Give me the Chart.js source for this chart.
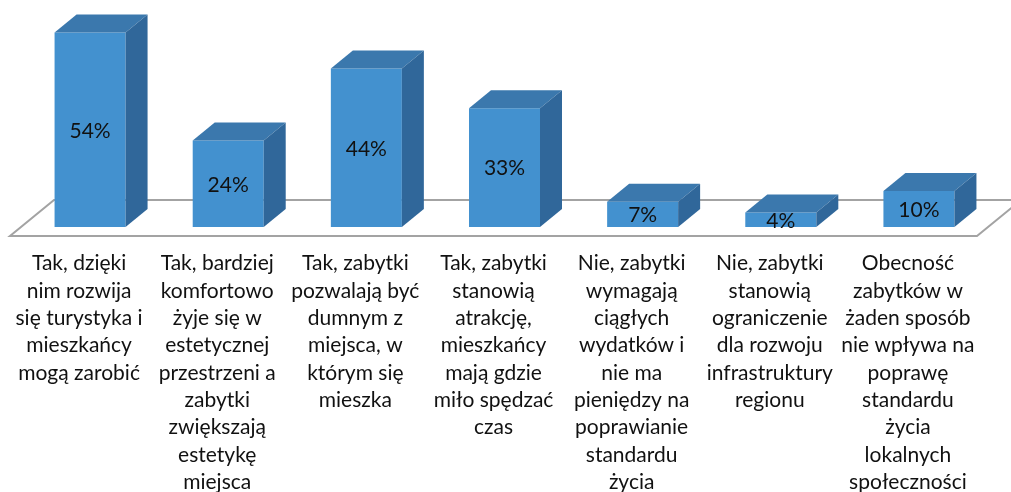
<!DOCTYPE html>
<html><head><meta charset="utf-8">
<script src="https://cdn.jsdelivr.net/npm/chart.js@4"></script>
<style>html,body{margin:0;padding:0;background:#fff;overflow:hidden}</style>
</head><body>
<canvas id="c" width="1011" height="492"></canvas>
<script>
const categories = [
  ["Tak, dzięki","nim rozwija","się turystyka i","mieszkańcy","mogą zarobić"],
  ["Tak, bardziej","komfortowo","żyje się w","estetycznej","przestrzeni a","zabytki","zwiększają","estetykę","miejsca"],
  ["Tak, zabytki","pozwalają być","dumnym z","miejsca, w","którym się","mieszka"],
  ["Tak, zabytki","stanowią","atrakcję,","mieszkańcy","mają gdzie","miło spędzać","czas"],
  ["Nie, zabytki","wymagają","ciągłych","wydatków i","nie ma","pieniędzy na","poprawianie","standardu","życia"],
  ["Nie, zabytki","stanowią","ograniczenie","dla rozwoju","infrastruktury","regionu"],
  ["Obecność","zabytków w","żaden sposób","nie wpływa na","poprawę","standardu","życia","lokalnych","społeczności"]
];
const values = [54, 24, 44, 33, 7, 4, 10];
const valueLabels = ["54%", "24%", "44%", "33%", "7%", "4%", "10%"];

const DX = 22, DY = -18;
const FRONT = '#4391cf', TOP = '#3b78ad', SIDE = '#30679a';
const FONT = '"Lato", "Open Sans", sans-serif';

const box3d = {
  id: 'box3d',
  beforeDatasetsDraw(chart) {
    const ctx = chart.ctx, a = chart.chartArea;
    const y0 = chart.scales.y.getPixelForValue(0);
    const fx0 = a.left - DX / 2, fx1 = a.right - DX / 2, fy = y0 - DY / 2;
    const bx0 = fx0 + 2 * DX, bx1 = fx1 + 2 * DX, by = fy + 2 * DY;
    ctx.save();
    ctx.strokeStyle = '#a3a3a3';
    ctx.lineWidth = 2;
    ctx.beginPath();
    ctx.moveTo(fx0, fy); ctx.lineTo(fx1, fy); ctx.lineTo(bx1, by); ctx.lineTo(bx0, by); ctx.closePath();
    ctx.stroke();
    ctx.restore();
  },
  afterDatasetsDraw(chart) {
    const ctx = chart.ctx;
    const meta = chart.getDatasetMeta(0);
    ctx.save();
    meta.data.forEach((bar, i) => {
      const p = bar.getProps(['x', 'y', 'base', 'width'], true);
      const l = p.x - p.width / 2, r = p.x + p.width / 2, t = p.y, b = p.base;
      ctx.fillStyle = TOP;
      ctx.beginPath();
      ctx.moveTo(l, t); ctx.lineTo(l + DX, t + DY); ctx.lineTo(r + DX, t + DY); ctx.lineTo(r, t); ctx.closePath();
      ctx.fill();
      ctx.fillStyle = SIDE;
      ctx.beginPath();
      ctx.moveTo(r, t); ctx.lineTo(r + DX, t + DY); ctx.lineTo(r + DX, b + DY); ctx.lineTo(r, b); ctx.closePath();
      ctx.fill();
      ctx.fillStyle = '#111';
      ctx.font = '21px ' + FONT;
      ctx.textAlign = 'center';
      ctx.textBaseline = 'middle';
      ctx.fillText(valueLabels[i], p.x, (t + b) / 2 + 1);
    });
    ctx.restore();
  }
};

new Chart(document.getElementById('c'), {
  type: 'bar',
  data: {
    labels: categories,
    datasets: [{
      data: values,
      backgroundColor: FRONT,
      borderWidth: 0,
      barPercentage: 0.514,
      categoryPercentage: 1
    }]
  },
  options: {
    responsive: false,
    devicePixelRatio: 1,
    animation: false,
    layout: { padding: { left: 21, right: 23, top: 11, bottom: 0 } },
    plugins: { legend: { display: false }, tooltip: { enabled: false } },
    scales: {
      y: { display: false, min: 0, max: 60 },
      x: {
        grid: { display: false, drawTicks: false },
        border: { display: false },
        ticks: {
          color: '#111',
          font: { family: FONT, size: 21, lineHeight: 1.3 },
          padding: 23,
          labelOffset: -11,
          maxRotation: 0,
          minRotation: 0,
          autoSkip: false
        },
        afterFit(scale) {
          scale.height = 265;
          scale.paddingLeft = 0;
          scale.paddingRight = 0;
        }
      }
    }
  },
  plugins: [box3d]
});
</script>
</body></html>
